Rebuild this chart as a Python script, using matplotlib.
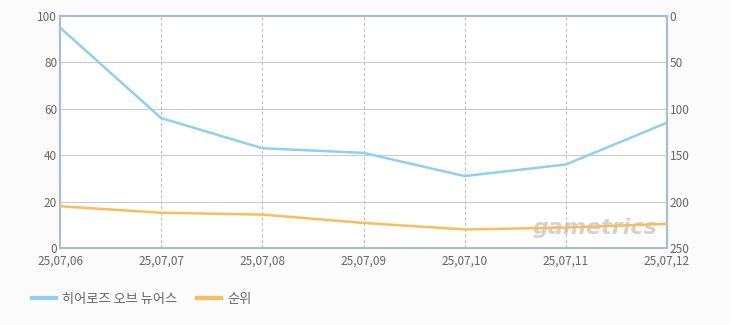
import matplotlib
matplotlib.use("Agg")
import matplotlib.pyplot as plt
from matplotlib.lines import Line2D

plt.rcParams['font.family'] = ['Noto Sans CJK KR', 'DejaVu Sans']

dates = ["25,07,06", "25,07,07", "25,07,08", "25,07,09", "25,07,10", "25,07,11", "25,07,12"]
score = [95, 56, 43, 41, 31, 36, 54]
rank = [205, 212, 214, 223, 230, 228, 224]
series_names = ["히어로즈 오브 뉴어스", "순위"]

blue = "#8fd0f0"
orange = "#fbbc5a"
tick_color = "#666666"
spine_color = "#a9bcd2"

fig = plt.figure(figsize=(7.3, 3.25), dpi=100)
fig.patch.set_facecolor("#fbfbfb")
ax = fig.add_axes([60/730, 1-248/325, 607/730, 232/325])
ax.set_facecolor("#ffffff")
x = list(range(len(dates)))

ax.set_xlim(0, len(dates)-1)
ax.set_ylim(0, 100)
ax.set_yticks([0, 20, 40, 60, 80, 100])
ax.set_xticks(x)
ax.set_xticklabels(dates)
for i in x[1:-1]:
    ax.axvline(i, color="#c4c4c4", lw=0.8, ls=(0, (3, 2)), zorder=1)
for v in [20, 40, 60, 80]:
    ax.axhline(v, color="#cccccc", lw=0.8, zorder=1)

ax.plot(x, score, color=blue, lw=1.8, zorder=3)

ax2 = ax.twinx()
ax2.set_ylim(250, 0)
ax2.set_yticks([0, 50, 100, 150, 200, 250])
ax2.plot(x, rank, color=orange, lw=1.8, zorder=3)

for a in (ax, ax2):
    for s in a.spines.values():
        s.set_color(spine_color)
        s.set_linewidth(1.5)
    a.tick_params(colors=tick_color, labelsize=8.5, length=0, pad=2)
    for lab in a.get_yticklabels() + a.get_xticklabels():
        lab.set_color(tick_color)
ax.tick_params(axis='x', pad=5)

ax.text(0.985, 0.085, "gametrics", transform=ax.transAxes, ha="right", va="center",
        fontsize=16, style="italic", fontweight="bold", color="#b5b5b5", alpha=0.6,
        family="DejaVu Sans", zorder=2)

handles = [Line2D([0], [0], color=blue, lw=3), Line2D([0], [0], color=orange, lw=3)]
fig.legend(handles, series_names, loc="center left", bbox_to_anchor=(20/730, 1-299/325),
           ncol=2, frameon=False, fontsize=9.5, handlelength=1.8, handletextpad=0.5,
           columnspacing=1.5, labelcolor=tick_color)

fig.savefig("out.png", dpi=100, facecolor=fig.get_facecolor())
